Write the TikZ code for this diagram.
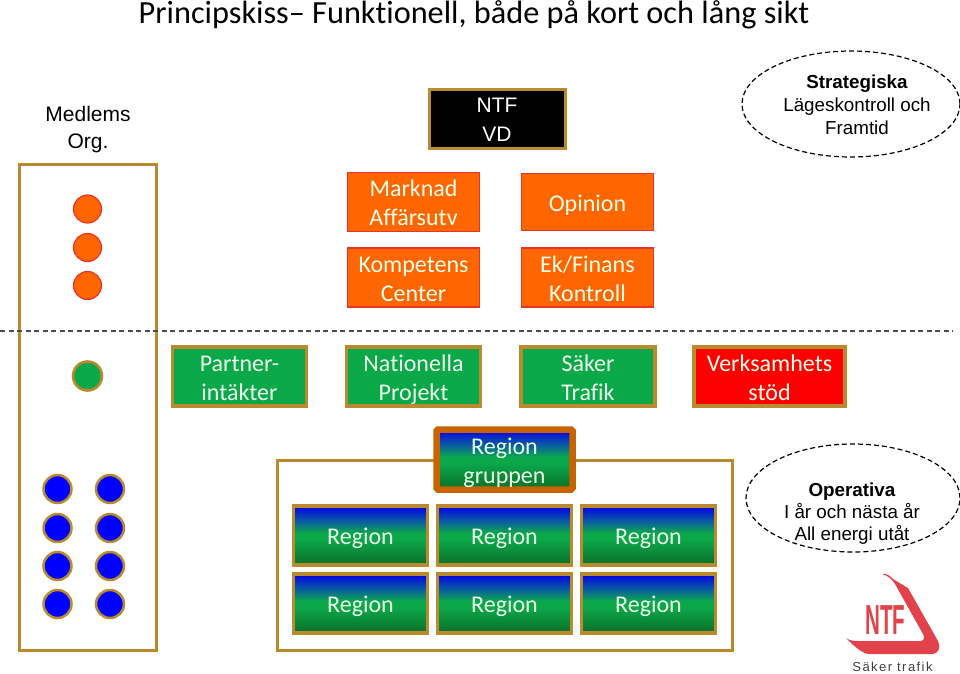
\documentclass[tikz,border=0pt]{standalone}
\usepackage{fontspec}
\setmainfont{Carlito}[Ligatures={NoCommon,TeX}]
\newfontfamily\arialf{Liberation Sans}
\newfontfamily\logofont[LetterSpace=11]{Liberation Sans}
\usetikzlibrary{shapes.geometric}
\definecolor{gold}{HTML}{B98B2E}
\definecolor{orgfill}{HTML}{FF6600}
\definecolor{orgline}{HTML}{E8332A}
\definecolor{grn}{HTML}{0BA84A}
\definecolor{darkg}{HTML}{0A6E28}
\definecolor{thick}{HTML}{C86400}
\definecolor{logored}{HTML}{E2434B}
\definecolor{blueg}{HTML}{0A5EA0}
\definecolor{pureb}{HTML}{0000E6}
\pgfdeclareverticalshading{regiongrad}{100bp}{color(0bp)=(darkg); color(25bp)=(darkg); color(47bp)=(grn); color(52bp)=(grn); color(62bp)=(blueg); color(75bp)=(pureb); color(100bp)=(pureb)}
\newcommand\tp{\rule{0pt}{24pt}}
\newcommand\bt{\rule[-6pt]{0pt}{6pt}}
\newcommand\tpa{\rule{0pt}{22pt}}
\newcommand\bta{\rule[-5pt]{0pt}{5pt}}
\tikzset{
 x=1pt,y=-1pt,
 box/.style={minimum width=#1,minimum height=0,inner sep=0,outer sep=0,rectangle,align=center,text=white!92!green,font=\fontsize{24}{29}\selectfont,anchor=center},
 orgbox/.style={box=132pt,minimum height=57pt,fill=orgfill,draw=orgline,line width=1.5pt},
 grnbox/.style={box=134pt,minimum height=59pt,fill=grn,draw=gold,line width=3.2pt},
 regbox/.style={box=134pt,minimum height=59pt,shading=regiongrad,draw=gold,line width=3.2pt},
 frame/.style={draw=gold,line width=3pt},
 orgdot/.style={circle,minimum size=28pt,inner sep=0,fill=orgfill,draw=orgline,line width=1.2pt},
 bluedot/.style={circle,minimum size=28pt,inner sep=0,fill=blue,draw=gold,line width=2.5pt},
 ell/.style={ellipse,draw,line width=1.2pt,dash pattern=on 5pt off 3pt,inner sep=0},
 elltxt/.style={align=center,inner sep=0,font=\arialf\fontsize{18.8}{#1}\selectfont},
 plain/.style={align=center,inner sep=0,text=black},
}
\begin{document}
\begin{tikzpicture}
\useasboundingbox (0,0) rectangle (960,673);
\node[plain,font=\fontsize{32.3}{38}\selectfont] (title) at (474,15) {Principskiss-- Funktionell, både på kort och lång sikt};
\node[plain,font=\arialf\fontsize{21}{27}\selectfont] (medlems) at (88,130) {Medlems\\Org.};
% frames
\draw[frame] (19,164) rectangle (156,650);
\draw[frame] (277,460) rectangle (732,650);
\draw[line width=1.2pt,black!70,dash pattern=on 5pt off 3.5pt] (0,331) coordinate (dl) -- (953,331) coordinate (dr);
% top
\node[box=136pt,minimum height=59pt,fill=black,draw=gold,line width=3pt,text=white,font=\arialf\fontsize{21}{29}\selectfont] (ntf) at (497,118.5) {\tpa NTF\\VD\bta};
\node[ell,minimum width=218pt,minimum height=106pt] (strat) at (851,104) {};
\node[elltxt=23] (strattxt) at (857,105) {\textbf{Strategiska}\\Lägeskontroll och\\Framtid};
% orange
\node[orgbox] (marknad) at (413.5,202) {\tp Marknad\\Affärsutv\bt};
\node[orgbox] (opinion) at (587.5,202) {\tp Opinion\bt};
\node[orgbox] (komp) at (413.5,277.5) {\tp Kompetens\\Center\bt};
\node[orgbox] (ek) at (587.5,277.5) {\tp Ek/Finans\\Kontroll\bt};
\node[orgdot] (o1) at (87.5,209) {};
\node[orgdot] (o2) at (87.5,247.5) {};
\node[orgdot] (o3) at (87.5,285.5) {};
\node[circle,minimum size=29pt,inner sep=0,fill=grn,draw=gold,line width=2.6pt] (g1) at (87.5,376) {};
% green row
\node[grnbox] (partner) at (239.5,376.5) {\tp Partner-\\intäkter\bt};
\node[grnbox] (nat) at (413.5,376.5) {\tp Nationella\\Projekt\bt};
\node[grnbox] (saker) at (588,376.5) {\tp Säker\\Trafik\bt};
\node[grnbox,minimum width=151pt,fill=red] (verk) at (769.5,376.5) {\tp Verksamhets\\stöd\bt};
% regions
\node[box=136pt,minimum height=60pt,shading=regiongrad,draw=thick,line width=6.5pt,rounded corners=1.5pt] (rg) at (504.5,459.5) {\tp Region\\gruppen\bt};
\node[regbox] (r1) at (360.5,535.5) {\tp Region\bt};
\node[regbox] (r2) at (504.5,535.5) {\tp Region\bt};
\node[regbox] (r3) at (648.5,535.5) {\tp Region\bt};
\node[regbox] (r4) at (360.5,603.5) {\tp Region\bt};
\node[regbox] (r5) at (504.5,603.5) {\tp Region\bt};
\node[regbox] (r6) at (648.5,603.5) {\tp Region\bt};
% blue dots
\foreach \y/\n in {489/a,528/b,566/c,604/d}{
 \node[bluedot] (bl\n) at (57.5,\y) {};
 \node[bluedot] (br\n) at (110,\y) {};
}
\node[ell,minimum width=214pt,minimum height=108pt] (oper) at (853,498) {};
\node[elltxt=22] (opertxt) at (852,513.5) {\textbf{Operativa}\\I år och nästa år\\All energi utåt};
% logo
\fill[logored] (882,574) .. controls (887,573) and (890,576) .. (893,579)
 -- (908,588) -- (938,641) .. controls (941,647) and (939,653) .. (933,654)
 -- (868,654) .. controls (860,652) and (853,645) .. (846,638)
 .. controls (850,641) and (855,641) .. (859,641)
 -- (920,641) .. controls (924,641) and (925,638) .. (923,634)
 -- (895,584) .. controls (892,579) and (887,575) .. (882,574) -- cycle;
\node[inner sep=0,text=logored,font=\arialf\bfseries\fontsize{42}{42}\selectfont,xscale=.49] (ntflogo) at (885.5,620) {NTF};
\node[inner sep=0,text=black!75,font=\logofont\fontsize{13}{14}\selectfont] (sakert) at (892.5,667) {Säker trafik};
\end{tikzpicture}
\end{document}
